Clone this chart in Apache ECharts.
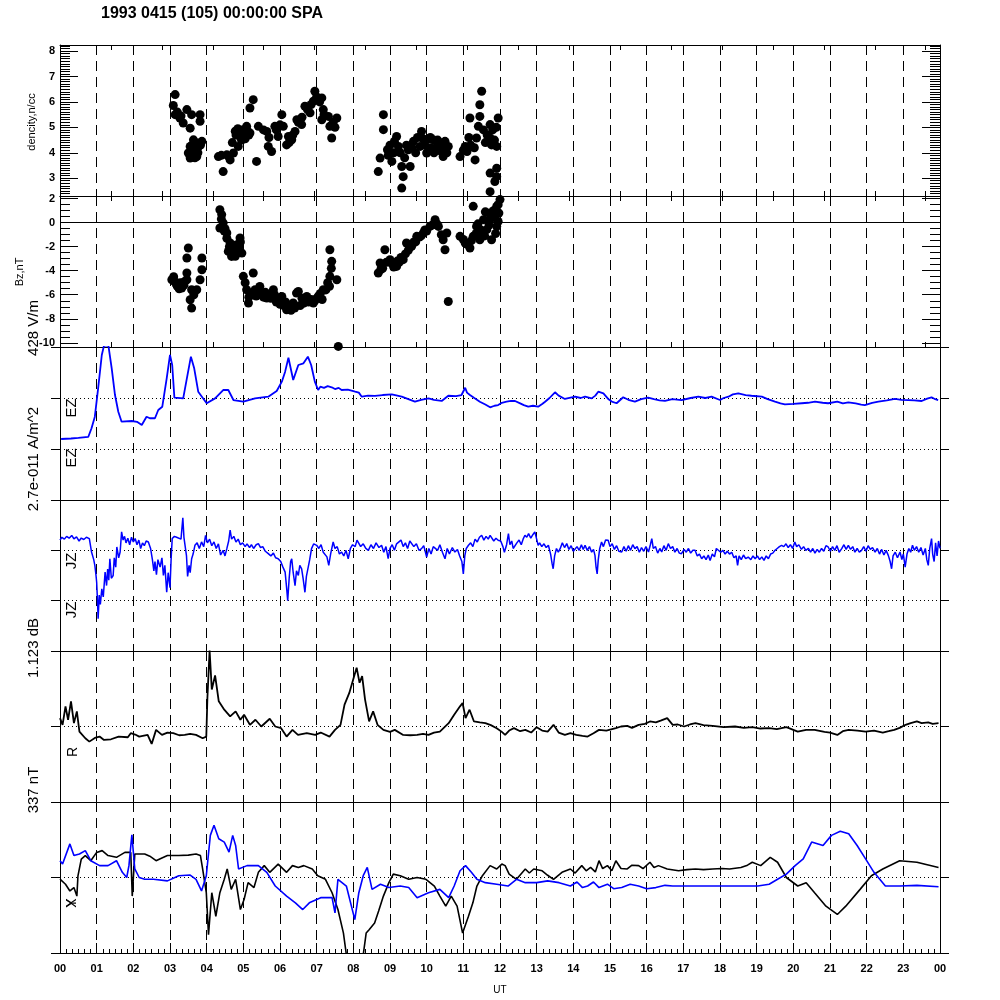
<!DOCTYPE html>
<html><head><meta charset="utf-8">
<script src="https://cdn.jsdelivr.net/npm/echarts/dist/echarts.min.js"></script>
<style>html,body{margin:0;padding:0;background:#fff}#c{width:1000px;height:1000px}</style>
</head><body><div id="c"></div>
<script>
// ---- data (hour of day UT, value) ----
const densityPts = [[3.14,6.29],[3.09,5.86],[3.14,5.50],[3.27,5.37],[3.36,5.17],[3.46,5.70],[3.59,5.50],[3.82,5.50],[3.82,5.24],[3.55,4.97],[3.64,4.51],[3.55,4.25],[3.50,3.99],[3.55,3.79],[3.73,3.85],[3.78,4.25],[3.87,4.45],[3.73,4.38],[3.20,5.60],[3.30,5.45],[3.62,4.05],[3.68,3.80],[3.60,4.30],
[3.58,3.95],[3.66,4.20],[3.70,4.10],[3.76,4.00],[3.83,4.30],[3.62,3.90],
[4.32,3.85],[4.45,3.26],[4.55,3.92],[4.64,3.72],[4.73,3.99],[4.86,4.25],[4.91,4.64],[5.00,4.91],[5.09,5.04],[5.18,4.78],[5.18,5.76],[5.27,6.09],[5.36,3.66],[5.41,5.04],[5.64,4.84],[5.68,4.25],[5.77,4.05],[5.86,5.04],[5.95,4.64],[6.05,5.50],[6.09,5.04],[6.18,4.31],[6.23,4.64],[6.32,4.51],[6.41,4.84],[6.46,5.30],[6.59,5.11],[6.68,5.83],[6.82,5.57],[6.91,6.03],[6.95,6.42],[7.14,6.16],[7.18,5.70],[7.14,5.30],[7.32,5.43],[7.36,5.04],[7.41,4.58],[7.55,5.37],[7.50,8.33],
[4.80,4.70],[4.95,4.85],[5.05,4.75],[4.70,4.40],[4.60,3.85],[4.40,3.90],
[4.78,4.85],[4.85,4.95],[4.90,4.80],[5.00,4.65],[5.10,4.90],[5.15,4.70],[5.05,4.55],[4.95,4.50],
[5.55,4.90],[5.70,4.60],[5.90,4.90],[6.00,5.10],[6.25,4.40],[6.35,4.70],[6.50,5.20],[6.60,5.40],[6.75,5.70],[6.85,5.90],[7.00,6.20],[7.08,6.00],[7.20,5.50],[7.45,5.20],[7.50,5.00],
[8.82,5.50],[8.82,4.91],[8.73,3.79],[8.68,3.26],[8.93,4.12],[9.05,3.66],[9.18,4.64],[9.23,4.25],[9.32,3.46],[9.36,3.06],[9.32,2.61],[9.50,4.12],[9.55,3.46],[9.64,4.45],[9.86,4.84],[9.82,4.25],[10.00,3.99],[10.18,4.51],[10.36,4.38],[10.45,3.85],[10.59,4.25],[10.91,3.85],[11.05,4.25],[11.18,5.37],[11.32,3.72],[11.36,4.58],[11.45,5.89],[11.50,6.42],[11.41,5.04],[11.45,5.43],[11.73,5.11],[11.73,4.58],[11.77,4.31],[11.95,5.37],[11.91,4.25],[11.73,3.20],[11.91,3.06],[11.86,2.87],[11.73,2.47],[11.91,3.39],
[9.95,4.30],[10.05,4.55],[10.25,4.20],[10.40,4.05],[10.50,4.45],[9.70,4.00],[9.40,3.80],[9.10,4.00],[8.95,3.90],[11.10,4.05],[11.60,4.40],[11.85,4.50],[11.20,4.30],
[9.00,4.30],[9.12,4.45],[9.28,4.00],[9.45,4.30],[9.60,4.20],[9.75,4.60],[9.90,4.55],[10.10,4.60],[10.30,4.50],[10.45,4.20],[10.55,4.00],[10.10,4.20],[10.20,4.00],[11.00,4.10],[11.15,4.60],[11.30,4.20],[11.55,4.90],[11.65,4.70],[11.80,4.90],[11.90,5.00]];

const bzPts = [[3.05,-4.75],[3.18,-5.17],[3.32,-5.44],[3.46,-4.75],[3.46,-4.19],[3.46,-2.94],[3.50,-2.11],[3.59,-5.58],[3.55,-6.42],[3.59,-7.11],[3.73,-5.58],[3.82,-4.75],[3.87,-3.92],[3.87,-2.94],[3.10,-4.50],[3.25,-5.50],[3.65,-6.00],
[3.12,-4.90],[3.20,-5.30],[3.28,-5.00],[3.38,-5.20],[3.40,-4.90],
[4.36,1.08],[4.41,0.67],[4.45,-0.03],[4.36,-0.44],[4.55,-0.86],[4.64,-1.69],[4.59,-2.39],[4.68,-2.81],[4.82,-1.83],[4.91,-1.28],[4.96,-2.53],[5.00,-4.47],[5.09,-5.58],[5.14,-6.69],[5.27,-4.19],[5.32,-5.58],[5.45,-5.31],[5.64,-6.28],[5.82,-5.58],[6.05,-6.14],[6.18,-7.25],[6.36,-6.69],[6.50,-5.72],[6.27,-6.97],[6.45,-5.86],[6.73,-6.14],[6.91,-6.69],[7.18,-5.58],[7.36,-4.47],[7.41,-3.22],[7.36,-2.25],[7.55,-4.75],[7.59,-10.30],
[4.75,-2.30],[4.88,-2.00],[5.20,-5.90],[5.50,-6.00],[5.70,-6.00],[5.95,-6.50],[6.10,-6.90],[6.60,-6.30],[6.85,-6.40],[7.00,-6.30],[7.10,-5.90],[7.30,-5.00],[4.50,-0.50],
[4.40,0.30],[4.48,-0.70],[4.55,-1.30],[4.62,-2.00],[4.70,-2.50],[4.78,-2.80],[4.85,-2.40],[4.92,-1.60],
[5.05,-5.00],[5.15,-6.20],[5.25,-5.90],[5.35,-6.10],[5.42,-5.70],[5.55,-6.20],[5.60,-5.80],[5.75,-6.30],[5.85,-6.00],[5.90,-6.60],[6.00,-6.80],[6.15,-6.60],[6.22,-7.20],[6.30,-7.30],[6.40,-7.10],[6.55,-6.90],[6.65,-6.70],[6.78,-6.60],[6.95,-6.50],[7.05,-6.10],[7.15,-6.40],[7.25,-5.60],[7.35,-5.30],[7.40,-3.80],
[8.68,-4.19],[8.73,-3.36],[8.86,-2.25],[9.00,-3.08],[9.18,-3.64],[9.36,-3.08],[9.45,-1.69],[9.59,-1.97],[9.73,-1.14],[9.91,-0.86],[10.09,-0.31],[10.23,0.25],[10.32,-0.31],[10.45,-1.42],[10.55,-0.86],[10.50,-2.25],[10.59,-6.56],[10.91,-1.14],[11.05,-1.69],[11.18,-2.11],[11.27,-1.14],[11.36,-0.31],[11.27,1.36],[11.45,-1.42],[11.55,0.25],[11.73,0.81],[11.77,-1.42],[11.91,1.36],[12.00,1.92],[11.91,-0.31],[11.64,-0.58],
[8.80,-3.80],[9.05,-3.40],[9.25,-3.30],[9.50,-2.30],[9.65,-1.60],[9.80,-1.20],[10.00,-0.70],[10.40,-1.00],[11.00,-1.40],[11.50,-0.80],[11.70,-0.20],[11.85,0.50],[11.60,0.90],[11.95,0.10],[11.40,-0.10],
[8.75,-3.90],[8.90,-3.30],[9.10,-3.70],[9.20,-3.20],[9.30,-2.90],[9.42,-2.60],[9.55,-2.00],[9.70,-1.60],[9.85,-1.10],[9.95,-0.60],[10.15,-0.20],[10.28,-0.10],
[11.10,-1.80],[11.22,-1.50],[11.35,-0.90],[11.48,-0.60],[11.58,-1.10],[11.68,0.20],[11.78,0.40],[11.82,1.00],[11.88,-0.90],[11.97,0.80],[11.95,1.50]];

// EZ in V/m
const ezPts = [[0.03,-344],[0.30,-340],[0.50,-335],[0.77,-327],[0.86,-254],[0.95,-157],[1.04,81],[1.14,361],[1.20,440],[1.32,440],[1.41,249],[1.50,25],[1.59,-115],[1.68,-199],[1.96,-193],[2.10,-200],[2.23,-227],[2.36,-157],[2.45,-170],[2.59,-170],[2.68,-101],[2.79,-73],[2.91,165],[3.00,361],[3.06,277],[3.12,3],[3.36,-3],[3.46,165],[3.57,347],[3.66,249],[3.77,53],[4.00,-44],[4.23,-3],[4.45,67],[4.59,67],[4.73,-17],[5.00,-31],[5.32,-3],[5.68,11],[5.91,59],[6.05,137],[6.14,221],[6.23,338],[6.36,151],[6.50,277],[6.64,291],[6.76,347],[6.85,277],[6.95,137],[7.04,67],[7.10,95],[7.20,85],[7.30,100],[7.41,90],[7.50,75],[7.60,85],[7.68,67],[7.85,70],[8.05,53],[8.15,45],[8.23,11],[8.40,20],[8.59,17],[8.80,25],[9.05,31],[9.20,20],[9.32,11],[9.50,-10],[9.68,-31],[9.85,-15],[10.05,-3],[10.20,-15],[10.41,-25],[10.59,19],[10.80,15],[10.95,25],[11.05,86],[11.10,45],[11.18,25],[11.30,0],[11.45,-31],[11.60,-55],[11.73,-78],[11.85,-65],[11.95,-59],[12.05,-40],[12.18,-31],[12.30,-25],[12.41,-25],[12.55,-45],[12.65,-60],[12.77,-73],[12.90,-65],[13.04,-73],[13.15,-50],[13.23,-31],[13.35,0],[13.50,48],[13.60,20],[13.77,-8],[14.05,11],[14.20,0],[14.32,11],[14.50,-3],[14.60,20],[14.68,53],[14.82,39],[14.95,-8],[15.05,-30],[15.18,-44],[15.36,6],[15.50,-15],[15.68,-31],[15.85,-10],[16.04,3],[16.20,-10],[16.35,-20],[16.50,-25],[16.70,-10],[16.95,-17],[17.20,0],[17.41,11],[17.60,0],[17.77,11],[18.00,-17],[18.10,0],[18.23,11],[18.35,30],[18.50,39],[18.70,25],[18.86,19],[19.14,11],[19.30,-10],[19.50,-31],[19.65,-45],[19.77,-53],[20.00,-50],[20.23,-44],[20.40,-40],[20.59,-31],[20.80,-40],[20.95,-44],[21.20,-30],[21.35,-45],[21.50,-36],[21.70,-45],[21.85,-55],[21.95,-59],[22.15,-40],[22.32,-31],[22.55,-20],[22.77,-8],[22.95,-15],[23.14,-17],[23.30,-20],[23.50,-25],[23.65,-5],[23.77,6],[23.87,-10],[23.95,-17]];

// JZ in 1e-11 A/m^2
const jzPts = [[0.00,0.55],[0.05,0.70],[0.12,0.60],[0.18,0.75],[0.25,0.65],[0.32,0.80],[0.38,0.62],[0.45,0.72],[0.52,0.50],[0.58,0.66],[0.65,0.58],[0.72,0.70],[0.80,0.63],
[0.86,-0.09],[0.92,-0.50],[0.95,-0.81],[0.98,-1.30],[1.00,-1.71],[1.02,-2.60],[1.04,-3.67],[1.07,-2.40],[1.10,-2.90],[1.14,-2.07],[1.18,-2.50],[1.23,-1.17],[1.27,-1.89],[1.30,-1.00],[1.33,-1.60],[1.36,-0.45],[1.40,-1.50],[1.45,-1.35],[1.48,-0.40],[1.52,-0.90],[1.55,0.18],[1.60,-0.40],[1.64,-0.09],[1.68,0.99],
[1.72,0.55],[1.76,0.75],[1.80,0.40],[1.85,0.65],[1.90,0.30],[1.95,0.70],[2.00,0.45],[2.05,0.63],[2.10,0.30],[2.15,0.55],[2.20,0.10],[2.25,0.40],[2.30,0.25],[2.35,0.50],[2.41,0.45],[2.47,0.10],
[2.52,-0.50],[2.56,-1.10],[2.59,-0.60],[2.63,-1.30],[2.67,-0.50],[2.73,-0.90],[2.78,-0.40],[2.82,-1.35],[2.86,-0.80],[2.91,-2.25],[2.95,-1.20],[3.00,-2.00],[3.03,-0.50],
[3.06,0.63],[3.12,0.75],[3.18,0.70],[3.23,0.80],[3.30,0.60],[3.35,1.74],[3.38,0.70],[3.41,0.63],[3.45,-0.30],
[3.48,-1.40],[3.52,-0.80],[3.55,-1.20],[3.59,-0.45],[3.63,-0.20],[3.68,0.27],
[3.74,0.40],[3.80,0.10],[3.86,0.45],[3.92,0.20],[3.97,0.80],[4.02,0.40],[4.08,0.60],[4.14,0.25],[4.20,0.45],[4.26,0.10],[4.32,0.35],[4.38,-0.25],[4.45,0.00],[4.50,-0.30],[4.55,0.09],[4.60,0.50],[4.64,1.08],[4.68,0.60],[4.74,0.75],[4.80,0.45],[4.86,0.60],[4.92,0.30],[4.98,0.40],
[5.05,0.20],[5.10,0.35],[5.17,0.15],[5.22,0.30],[5.28,0.10],[5.35,0.30],[5.41,0.36],[5.47,0.15],[5.53,0.20],[5.60,-0.05],[5.68,-0.18],[5.75,-0.30],[5.82,-0.15],[5.88,-0.40],[5.95,-0.45],[6.02,-0.60],
[6.08,-0.90],[6.14,-1.17],[6.18,-2.00],[6.21,-2.70],[6.25,-1.50],[6.29,-0.60],[6.32,-0.45],[6.36,-1.20],[6.41,-1.89],[6.45,-1.10],[6.50,-1.35],[6.54,-0.80],[6.59,-0.99],[6.63,-1.50],[6.68,-2.25],[6.72,-1.40],[6.77,-1.35],[6.81,-0.50],[6.86,0.09],
[6.92,0.35],[7.00,0.27],[7.06,0.10],[7.12,0.30],[7.18,-0.10],[7.23,-0.18],[7.28,-0.35],[7.33,-0.81],[7.38,-0.20],[7.45,0.45],[7.50,0.10],[7.56,0.20],[7.62,-0.20],[7.68,-0.09],[7.74,-0.30],[7.80,0.00],[7.86,-0.45],[7.92,0.10],[7.98,0.30],[8.05,0.20],[8.10,0.55],[8.14,0.63],[8.20,0.20],[8.27,0.35],[8.34,0.10],[8.41,0.00],
[8.48,0.30],[8.55,0.10],[8.62,0.40],[8.70,0.15],[8.77,0.27],[8.83,-0.10],[8.89,0.20],[8.95,-0.45],[9.00,0.10],[9.06,0.30],[9.12,0.00],[9.18,0.35],[9.23,0.27],[9.30,0.55],[9.36,0.20],[9.42,0.40],[9.48,0.10],[9.54,0.50],[9.59,0.45],[9.65,0.20],[9.72,0.35],[9.79,0.00],[9.86,0.09],[9.92,0.25],[10.00,-0.36],[10.06,0.10],[10.12,-0.20],[10.18,0.20],[10.23,0.27],[10.30,0.00],[10.36,0.30],[10.43,-0.10],[10.50,-0.45],[10.56,0.10],[10.62,-0.20],[10.70,0.15],[10.77,-0.09],[10.84,0.05],[10.90,-0.30],[10.96,-0.60],[11.00,-1.26],
[11.04,-0.30],[11.08,0.10],[11.14,0.27],[11.20,0.40],[11.26,0.20],[11.32,0.60],[11.38,0.45],[11.44,0.70],[11.50,0.81],[11.56,0.55],[11.62,0.75],[11.68,0.60],[11.73,0.80],[11.77,0.72],[11.83,0.50],[11.89,0.65],[11.95,0.54],
[12.02,0.50],[12.08,0.20],[12.12,-0.10],[12.14,-0.18],[12.18,0.30],[12.23,0.90],[12.27,0.30],[12.32,0.50],[12.36,0.10],[12.41,0.18],[12.46,0.40],[12.52,0.55],[12.58,0.30],[12.63,0.60],[12.68,0.81],[12.73,0.70],[12.78,0.90],[12.84,0.65],[12.90,0.85],[12.95,0.99],[13.00,0.60],[13.04,0.27],
[13.08,0.40],[13.14,0.20],[13.20,0.35],[13.26,0.15],[13.32,0.27],[13.38,-0.20],[13.42,-0.70],[13.45,-0.99],[13.49,-0.30],[13.54,0.10],[13.59,-0.10],[13.64,0.09],[13.70,0.40],[13.76,0.15],[13.82,0.36],[13.88,0.05],[13.94,0.25],[14.00,-0.05],
[14.05,-0.09],[14.10,0.20],[14.16,0.00],[14.22,0.30],[14.27,0.05],[14.32,0.27],[14.38,0.00],[14.44,0.20],[14.50,-0.10],[14.55,0.05],[14.59,-0.27],[14.62,-0.90],[14.65,-1.26],[14.68,-0.50],[14.72,0.10],[14.77,0.45],[14.82,0.20],[14.88,0.55],[14.95,0.54],[15.00,0.20],
[15.06,0.35],[15.12,0.05],[15.18,0.25],[15.24,-0.05],[15.32,-0.09],[15.38,0.20],[15.44,-0.05],[15.50,0.25],[15.56,0.00],[15.62,0.30],[15.68,0.09],[15.74,0.20],[15.80,-0.10],[15.86,0.15],[15.92,-0.05],[15.98,0.20],
[16.05,-0.09],[16.10,0.30],[16.14,0.63],[16.18,0.10],[16.24,0.20],[16.30,-0.15],[16.36,0.10],[16.41,-0.09],[16.47,0.25],[16.53,0.00],[16.59,0.36],[16.65,0.10],[16.71,0.20],[16.77,-0.10],[16.83,0.10],[16.89,-0.15],[16.95,-0.18],
[17.02,0.05],[17.08,-0.10],[17.14,0.10],[17.20,-0.15],[17.26,0.00],[17.32,0.00],[17.38,-0.30],[17.44,-0.20],[17.50,-0.45],[17.56,-0.30],[17.62,-0.50],[17.68,-0.25],[17.73,-0.54],[17.79,-0.20],[17.85,-0.35],[17.90,0.10],[17.95,0.00],
[18.02,-0.10],[18.08,0.00],[18.14,-0.20],[18.20,-0.05],[18.26,-0.20],[18.32,-0.10],[18.38,-0.40],[18.44,-0.30],[18.48,-0.81],[18.52,-0.30],[18.58,-0.50],[18.64,-0.25],[18.70,-0.45],[18.77,-0.36],[18.84,-0.50],[18.90,-0.30],[18.96,-0.45],[19.02,-0.30],[19.08,-0.50],[19.14,-0.35],[19.20,-0.54],[19.26,-0.30],[19.32,-0.45],[19.38,-0.20],[19.44,-0.15],[19.50,0.00],[19.56,0.10],[19.62,0.20],[19.68,0.27],
[19.74,0.20],[19.80,0.35],[19.86,0.15],[19.92,0.30],[19.98,0.10],[20.04,0.45],[20.09,0.20],[20.15,0.30],[20.22,0.05],[20.28,0.20],[20.34,0.00],[20.41,0.10],[20.47,-0.10],[20.53,0.10],[20.59,-0.15],[20.65,0.05],[20.71,-0.10],[20.77,0.10],[20.83,-0.05],[20.89,0.25],[20.95,0.18],[21.01,-0.05],[21.07,0.20],[21.13,0.00],[21.19,0.25],[21.25,-0.10],[21.32,0.09],[21.38,0.30],[21.44,0.05],[21.50,0.27],[21.56,0.05],[21.62,0.20],[21.68,-0.10],[21.74,0.10],[21.80,-0.10],[21.86,0.00],[21.92,0.20],[21.98,-0.05],[22.04,0.25],[22.10,0.05],[22.16,0.15],[22.23,-0.10],[22.29,0.10],[22.35,-0.20],[22.41,0.05],[22.47,-0.25],[22.53,0.00],[22.59,-0.27],[22.64,-0.60],[22.68,-0.99],[22.72,-0.30],[22.78,-0.10],[22.84,-0.40],[22.91,-0.09],[22.96,-0.50],[23.00,-0.20],[23.05,-0.90],[23.10,-0.20],[23.15,0.10],[23.20,-0.10],[23.25,0.27],[23.30,0.00],[23.36,0.20],[23.42,-0.10],[23.48,0.15],[23.54,-0.25],[23.60,0.10],[23.64,-0.50],[23.68,-0.81],[23.72,0.10],[23.77,0.63],[23.80,-0.20],[23.84,-0.60],[23.88,0.40],[23.92,-0.30],[23.96,0.50],[24.00,0.10]];

// R in dB
const rPts = [[0.00,0.125],[0.07,0.025],[0.15,0.30],[0.22,0.10],[0.30,0.375],[0.38,0.05],[0.46,0.225],[0.53,-0.075],[0.69,-0.175],[0.80,-0.225],[0.95,-0.17],[1.08,-0.15],[1.20,-0.20],[1.39,-0.19],[1.60,-0.15],[1.85,-0.16],[1.93,-0.10],[2.05,-0.12],[2.16,-0.15],[2.39,-0.125],[2.50,-0.26],[2.62,-0.05],[2.78,-0.125],[2.93,-0.09],[3.09,-0.10],[3.25,-0.13],[3.40,-0.125],[3.55,-0.11],[3.71,-0.125],[3.89,-0.175],[3.99,-0.15],[4.02,0.425],[4.08,1.13],[4.14,0.55],[4.23,0.76],[4.33,0.375],[4.48,0.25],[4.64,0.15],[4.79,0.225],[4.92,0.10],[5.02,0.175],[5.18,0.025],[5.33,0.10],[5.49,0.00],[5.72,0.115],[5.87,0.00],[6.03,-0.025],[6.18,-0.15],[6.34,-0.05],[6.49,-0.125],[6.73,-0.10],[6.96,-0.125],[7.11,-0.09],[7.35,-0.15],[7.50,-0.05],[7.65,0.025],[7.76,0.325],[7.89,0.50],[8.01,0.725],[8.09,0.875],[8.17,0.65],[8.24,0.75],[8.32,0.40],[8.43,0.075],[8.54,0.225],[8.66,0.025],[8.82,-0.05],[9.00,-0.08],[9.13,-0.05],[9.36,-0.125],[9.55,-0.13],[9.74,-0.125],[9.90,-0.11],[10.05,-0.125],[10.20,-0.09],[10.36,-0.075],[10.60,0.05],[10.75,0.175],[10.91,0.30],[10.98,0.35],[11.06,0.125],[11.17,0.25],[11.29,0.075],[11.45,0.06],[11.60,0.05],[11.75,0.02],[11.91,-0.025],[12.05,-0.08],[12.14,-0.125],[12.25,-0.06],[12.38,-0.025],[12.55,-0.07],[12.69,-0.05],[12.85,-0.09],[13.00,-0.01],[13.15,-0.06],[13.30,-0.075],[13.46,0.025],[13.60,-0.09],[13.77,-0.125],[13.92,-0.10],[14.08,-0.125],[14.25,-0.14],[14.39,-0.15],[14.55,-0.10],[14.70,-0.05],[14.90,-0.06],[15.16,-0.025],[15.30,0.00],[15.47,0.01],[15.60,-0.02],[15.78,0.025],[15.95,0.04],[16.09,0.075],[16.25,0.06],[16.40,0.09],[16.56,0.125],[16.71,0.025],[16.85,0.03],[17.02,0.00],[17.18,0.03],[17.33,0.05],[17.55,0.02],[17.80,0.01],[18.10,-0.01],[18.41,0.00],[18.65,-0.02],[18.88,-0.01],[19.10,-0.03],[19.34,-0.025],[19.55,-0.04],[19.81,-0.01],[20.12,-0.075],[20.35,-0.05],[20.58,-0.05],[20.85,-0.08],[21.00,-0.09],[21.20,-0.125],[21.35,-0.07],[21.51,-0.05],[21.75,-0.06],[21.97,-0.075],[22.20,-0.06],[22.44,-0.09],[22.60,-0.07],[22.75,-0.05],[22.90,-0.02],[23.06,0.025],[23.20,0.05],[23.37,0.075],[23.50,0.05],[23.68,0.06],[23.80,0.04],[23.96,0.05]];

// X and Y in nT
const xPts = [[0.00,-7.5],[0.15,-30],[0.27,-60],[0.38,-45],[0.46,-83],[0.49,7.5],[0.58,82],[0.69,98],[0.84,75],[1.00,112],[1.15,120],[1.31,98],[1.54,90],[1.77,112],[1.93,112],[1.97,-83],[2.04,105],[2.31,105],[2.45,95],[2.62,75],[2.75,85],[2.93,98],[3.24,98],[3.50,100],[3.71,105],[3.83,98],[3.89,38],[3.99,-68],[4.05,-255],[4.14,-68],[4.25,-173],[4.36,-68],[4.48,-8],[4.56,38],[4.67,-53],[4.79,-8],[4.92,-143],[5.02,-98],[5.13,-23],[5.29,-45],[5.41,23],[5.57,53],[5.72,23],[5.95,60],[6.18,23],[6.34,53],[6.50,45],[6.65,53],[6.88,38],[7.03,8],[7.24,-8],[7.42,-68],[7.58,-143],[7.73,-248],[7.81,-345],[8.27,-345],[8.35,-248],[8.43,-233],[8.58,-203],[8.69,-150],[8.82,-83],[8.97,-23],[9.09,15],[9.28,8],[9.51,-8],[9.74,0],[9.98,-8],[10.21,-38],[10.36,-83],[10.52,-128],[10.67,-83],[10.83,-128],[10.98,-248],[11.14,-173],[11.26,-113],[11.37,-38],[11.52,8],[11.73,53],[11.91,38],[12.05,60],[12.14,53],[12.25,15],[12.45,-8],[12.69,38],[12.80,20],[12.92,38],[13.15,30],[13.30,10],[13.46,-8],[13.69,23],[13.92,38],[14.05,20],[14.23,53],[14.35,30],[14.47,45],[14.60,25],[14.70,75],[14.80,40],[14.93,53],[15.05,30],[15.16,75],[15.30,40],[15.47,38],[15.60,55],[15.78,53],[15.90,40],[16.09,68],[16.20,45],[16.32,53],[16.56,38],[16.87,30],[17.10,35],[17.33,38],[17.55,35],[17.80,38],[18.05,40],[18.26,38],[18.57,45],[18.75,55],[18.88,68],[19.11,53],[19.37,90],[19.57,68],[19.81,0],[20.12,-38],[20.35,-23],[20.58,-68],[20.89,-128],[21.20,-165],[21.43,-128],[21.82,-53],[22.13,8],[22.44,38],[22.90,75],[23.37,68],[23.96,45]];
const yPts = [[0.00,75],[0.07,60],[0.27,150],[0.38,98],[0.53,105],[0.69,120],[0.84,75],[1.08,53],[1.31,53],[1.54,75],[1.70,23],[1.82,0],[1.88,53],[1.96,191],[2.04,38],[2.16,0],[2.31,-8],[2.55,-8],[2.93,-15],[3.24,8],[3.55,11],[3.71,-8],[3.86,-60],[3.99,8],[4.10,188],[4.20,233],[4.33,173],[4.48,158],[4.61,113],[4.71,188],[4.79,143],[4.87,38],[5.10,53],[5.41,53],[5.64,23],[5.87,-38],[6.18,-83],[6.42,-113],[6.62,-143],[6.80,-113],[7.11,-90],[7.42,-90],[7.50,-158],[7.58,-8],[7.81,-38],[8.04,-188],[8.15,-68],[8.27,8],[8.38,45],[8.51,-53],[8.74,-30],[8.97,-45],[9.28,-38],[9.51,-45],[9.74,-90],[10.05,-68],[10.36,-53],[10.60,-90],[10.75,-38],[10.91,30],[11.06,53],[11.22,23],[11.37,-8],[11.60,-23],[11.91,-30],[12.22,-38],[12.45,-8],[12.69,-23],[13.00,-23],[13.30,-15],[13.61,-23],[13.92,-38],[14.10,-20],[14.25,-45],[14.39,-38],[14.55,-20],[14.70,-45],[14.93,-30],[15.10,-50],[15.32,-45],[15.55,-30],[15.78,-38],[16.00,-50],[16.25,-45],[16.50,-35],[16.71,-38],[17.17,-38],[17.64,-38],[18.10,-38],[18.57,-38],[19.03,-38],[19.34,-30],[19.57,-8],[19.81,15],[20.05,53],[20.27,83],[20.50,158],[20.81,143],[21.04,188],[21.28,206],[21.51,195],[21.74,143],[21.97,83],[22.20,23],[22.51,-38],[22.90,-38],[23.37,-35],[23.96,-41]];

// tick values
const densMajor = [3,4,5,6,7,8];
const bzMajor = [-10,-8,-6,-4,-2,0,2];
const densMinor = []; for (let i = 23; i <= 82; i++) densMinor.push(i / 10);
const bzMinor = []; for (let i = -20; i <= 4; i++) bzMinor.push(i / 2);

const FONT = '"Liberation Sans", Arial, Helvetica, sans-serif';
const BLK = '#000';
const axLine = {show: true, onZero: false, lineStyle: {color: BLK, width: 1}};
const dashSplit = {show: true, lineStyle: {color: BLK, width: 1, type: [10, 6]}};
const tops = [45, 196, 347, 500, 651, 802, 45, 196];
const heights = [151, 151, 153, 151, 151, 151, 151, 151];
const grid = tops.map((t, i) => ({left: 60, right: 60, top: t, height: heights[i]}));

function hourAxis(g, extra) {
  return Object.assign({gridIndex: g, type: 'value', min: 0, max: 24, interval: 1, position: 'bottom',
    axisLine: axLine, axisTick: {show: false}, axisLabel: {show: false}, splitLine: dashSplit, minorTick: {show: false}}, extra || {});
}
function secAxis(g, pos) {
  return {gridIndex: g, type: 'value', min: 0, max: 24, interval: 5000 / 3600, position: pos,
    axisLine: {show: pos === 'top', onZero: false, lineStyle: {color: BLK, width: 1}},
    axisTick: {show: true, inside: true, length: 5, lineStyle: {color: BLK}}, axisLabel: {show: false}, splitLine: {show: false}};
}
const xAxis = [
  hourAxis(0), secAxis(0, 'top'), secAxis(0, 'bottom'),
  hourAxis(1), secAxis(1, 'top'), secAxis(1, 'bottom'),
  hourAxis(2), hourAxis(3), hourAxis(4),
  hourAxis(5, {
    axisTick: {show: true, inside: true, length: 10, lineStyle: {color: BLK}},
    minorTick: {show: true, splitNumber: 6, length: 4, lineStyle: {color: BLK}},
    axisLabel: {show: true, color: BLK, fontSize: 11, fontWeight: 'bold', fontFamily: FONT, margin: 10,
      showMinLabel: true, showMaxLabel: true,
      formatter: v => String(Math.round(v) % 24).padStart(2, '0')}
  }),
  {gridIndex: 6, type: 'value', min: 0, max: 24, show: false},
  {gridIndex: 7, type: 'value', min: 0, max: 24, show: false}
];

function majorAxes(g, min, max, major) {
  const base = {gridIndex: g, type: 'value', min: min, max: max, splitLine: {show: false}};
  return [
    Object.assign({}, base, {position: 'left', axisLine: axLine,
      axisTick: {show: true, inside: true, length: 18, customValues: major, lineStyle: {color: BLK}},
      axisLabel: {show: true, customValues: major, color: BLK, fontSize: 11, fontWeight: 'bold', fontFamily: FONT, margin: 5}}),
    Object.assign({}, base, {position: 'right', axisLine: axLine,
      axisTick: {show: true, inside: true, length: 18, customValues: major, lineStyle: {color: BLK}}, axisLabel: {show: false}})
  ];
}
function minorAxes(g, min, max, minor) {
  const base = {gridIndex: g, type: 'value', min: min, max: max, splitLine: {show: false}, axisLine: {show: false}, axisLabel: {show: false}};
  return [
    Object.assign({}, base, {position: 'left',
      axisTick: {show: true, inside: true, length: 10, customValues: minor, lineStyle: {color: BLK}}}),
    Object.assign({}, base, {position: 'right',
      axisTick: {show: true, inside: true, length: 10, customValues: minor, lineStyle: {color: BLK}}})
  ];
}
function lowAxes(g, min, max, step) {
  const base = {gridIndex: g, type: 'value', min: min, max: max, interval: step, axisLabel: {show: false}};
  return [
    Object.assign({}, base, {position: 'left', axisLine: axLine,
      axisTick: {show: true, inside: false, length: 9, lineStyle: {color: BLK}},
      splitLine: {show: true, lineStyle: {color: BLK, width: 1, type: [1, 3]}}}),
    Object.assign({}, base, {position: 'right', axisLine: axLine,
      axisTick: {show: true, inside: false, length: 9, lineStyle: {color: BLK}}, splitLine: {show: false}})
  ];
}
const yAxis = [].concat(
  majorAxes(0, 2.3, 8.24, densMajor),       // 0-1
  majorAxes(1, -10.35, 2.22, bzMajor),      // 2-3
  lowAxes(2, -856, 428, 428),               // 4-5
  lowAxes(3, -5.4, 2.7, 2.7),               // 6-7
  lowAxes(4, -1.123, 1.123, 1.123),         // 8-9
  lowAxes(5, -337, 337, 337),               // 10-11
  minorAxes(6, 2.3, 8.24, densMinor),       // 12-13
  minorAxes(7, -10.35, 2.22, bzMinor)       // 14-15
);

function lineSeries(data, xi, yi, color, w) {
  return {type: 'line', data: data, xAxisIndex: xi, yAxisIndex: yi, showSymbol: false, symbol: 'none',
    clip: true, lineStyle: {color: color, width: w}, itemStyle: {color: color}, silent: true};
}
const series = [
  {type: 'scatter', data: densityPts, xAxisIndex: 0, yAxisIndex: 0, symbolSize: 9, clip: true,
   itemStyle: {color: BLK, opacity: 1}, silent: true},
  {type: 'scatter', data: bzPts, xAxisIndex: 3, yAxisIndex: 2, symbolSize: 9, clip: true,
   itemStyle: {color: BLK, opacity: 1}, silent: true,
   markLine: {silent: true, symbol: 'none', label: {show: false}, lineStyle: {color: BLK, width: 1, type: 'solid'},
     data: [{yAxis: 0}]}},
  lineSeries(ezPts, 6, 4, '#0000ff', 1.8),
  lineSeries(jzPts, 7, 6, '#0000ff', 1.5),
  lineSeries(rPts, 8, 8, BLK, 1.8),
  lineSeries(xPts, 9, 10, BLK, 1.6),
  lineSeries(yPts, 9, 10, '#0000ff', 1.6)
];

function rotText(txt, x, y, size) {
  return {type: 'text', x: x, y: y, rotation: Math.PI / 2,
    style: {text: txt, font: size + 'px ' + FONT, fill: BLK, align: 'center', verticalAlign: 'middle'}};
}
const graphic = [
  {type: 'text', x: 101, y: 14, style: {text: '1993 0415 (105) 00:00:00 SPA', font: 'bold 16px ' + FONT, fill: BLK, verticalAlign: 'middle'}},
  rotText('dencity,n/cc', 32, 122, 11),
  rotText('Bz,nT', 20, 272, 11),
  rotText('428 V/m', 34, 328, 15),
  rotText('2.7e-011 A/m^2', 34, 459, 15),
  rotText('1.123 dB', 34, 648, 15),
  rotText('337 nT', 34, 790, 15),
  rotText('EZ', 72, 408, 15),
  rotText('EZ', 72, 458, 15),
  rotText('JZ', 72, 561, 15),
  rotText('JZ', 72, 610, 15),
  rotText('R', 73, 752, 14),
  rotText('X', 72, 903, 14),
  rotText('Y', 72, 903, 14),
  {type: 'text', x: 500, y: 990, style: {text: 'UT', font: '10px ' + FONT, fill: BLK, align: 'center', verticalAlign: 'middle'}}
];

const chart = echarts.init(document.getElementById('c'), null, {renderer: 'canvas'});
chart.setOption({animation: false, backgroundColor: '#fff', grid: grid, xAxis: xAxis, yAxis: yAxis, series: series, graphic: graphic});
</script></body></html>
